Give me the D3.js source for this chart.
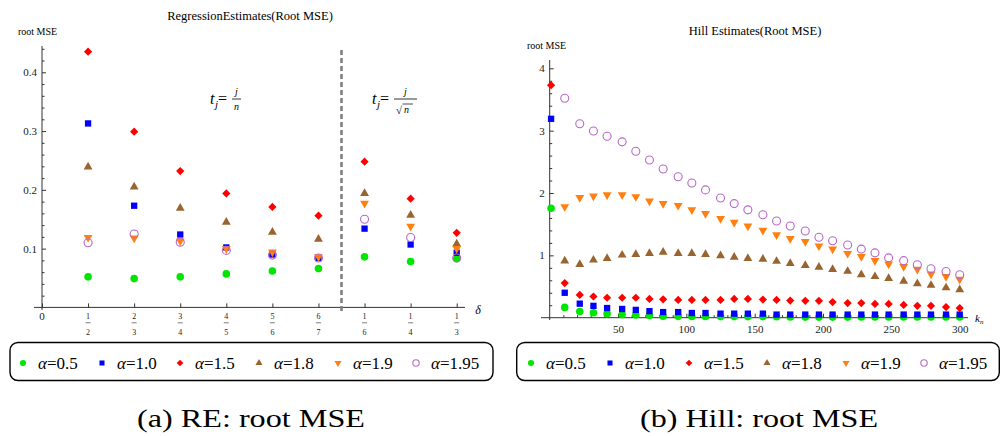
<!DOCTYPE html>
<html><head><meta charset="utf-8">
<script src="https://cdn.jsdelivr.net/npm/d3@7"></script>
<style>body{margin:0;background:#fff} svg{display:block}</style>
</head><body><svg id="c" width="1000" height="436"></svg>
<script>
// ---------- data ----------
const reIndex = [1,2,3,4,5,6,7,8,9];
const reTickNum = ["1","2","3","4","5","6","1","1","1"];
const reTickDen = ["2","3","4","5","6","7","6","4","3"];
const alphaLabels = ["0.5","1.0","1.5","1.8","1.9","1.95"];
const re_a05  = [0.052,0.049,0.052,0.057,0.062,0.066,0.086,0.078,0.083];
const re_a10  = [0.313,0.173,0.124,0.102,0.090,0.084,0.134,0.107,0.093];
const re_a15  = [0.435,0.299,0.232,0.194,0.171,0.156,0.248,0.185,0.127];
const re_a18  = [0.239,0.205,0.169,0.145,0.128,0.116,0.194,0.157,0.108];
const re_a19  = [0.119,0.118,0.113,0.100,0.094,0.086,0.177,0.138,0.100];
const re_a195 = [0.110,0.125,0.111,0.097,0.089,0.084,0.150,0.119,0.084];
const reYTicks = [0.1,0.2,0.3,0.4];

const hillK = [1,11,22,32,42,53,63,73,83,94,104,114,125,135,145,156,166,176,187,197,207,218,228,238,248,259,269,279,290,300];
const hill_a05  = [1.755,0.165,0.10,0.08,0.065,0.05,0.045,0.035,0.025,0.022,0.02,0.02,0.018,0.018,0.018,0.018,0.016,0.012,0.01,0.01,0.01,0.01,0.012,0.012,0.012,0.012,0.012,0.012,0.012,0.012];
const hill_a10  = [3.19,0.40,0.225,0.19,0.155,0.14,0.125,0.105,0.09,0.09,0.075,0.075,0.065,0.065,0.065,0.065,0.05,0.05,0.05,0.05,0.05,0.05,0.05,0.05,0.05,0.05,0.05,0.05,0.05,0.05];
const hill_a15  = [3.73,0.555,0.365,0.34,0.32,0.32,0.32,0.30,0.295,0.285,0.285,0.285,0.285,0.30,0.30,0.29,0.285,0.275,0.27,0.27,0.25,0.235,0.235,0.22,0.22,0.205,0.19,0.19,0.17,0.155];
const hill_a18  = [null,0.91,0.855,0.925,0.95,1.005,1.015,1.03,1.05,1.03,1.03,1.015,0.995,0.97,0.95,0.94,0.905,0.87,0.84,0.81,0.775,0.745,0.69,0.66,0.63,0.585,0.545,0.52,0.48,0.45];
const hill_a19  = [null,1.78,1.925,1.95,1.97,1.97,1.94,1.87,1.83,1.80,1.73,1.67,1.59,1.53,1.47,1.40,1.33,1.27,1.22,1.15,1.10,1.03,0.98,0.915,0.86,0.82,0.776,0.70,0.66,0.615];
const hill_a195 = [null,3.52,3.11,2.995,2.91,2.82,2.67,2.53,2.385,2.26,2.16,2.05,1.92,1.83,1.73,1.65,1.55,1.47,1.39,1.29,1.235,1.166,1.10,1.04,0.96,0.915,0.85,0.786,0.74,0.69];
const hillXTicks = [50,100,150,200,250,300];
const hillYTicks = [1,2,3,4];

// ---------- styles ----------
const FONT = "'Liberation Serif', 'Times New Roman', Times, serif";
const colors = ["#00e600","#0000ff","#ff0000","#9a6430","#ff8010","#b868c8"];
const shapes = ["circle","square","diamond","tri","tridown","ocircle"];

const svg = d3.select("#c");

function marker(g, shape, color, x, y, s) {
  let p;
  if (shape === "circle") p = g.append("circle").attr("r", 3.8*s).attr("fill", color);
  else if (shape === "ocircle") p = g.append("circle").attr("r", 4.0*s).attr("fill", "none").attr("stroke", color).attr("stroke-width", 1.1);
  else if (shape === "square") p = g.append("path").attr("d", d3.symbol(d3.symbolSquare, 40*s*s)()).attr("fill", color);
  else if (shape === "diamond") p = g.append("path").attr("d", d3.symbol(d3.symbolSquare, 34*s*s)()).attr("fill", color).attr("data-rot", 45);
  else if (shape === "tri") p = g.append("path").attr("d", d3.symbol(d3.symbolTriangle, 34*s*s)()).attr("fill", color);
  else if (shape === "tridown") p = g.append("path").attr("d", d3.symbol(d3.symbolTriangle, 34*s*s)()).attr("fill", color).attr("data-rot", 180);
  const rot = p.attr("data-rot");
  p.attr("transform", `translate(${x},${y})` + (rot ? ` rotate(${rot})` : ""));
}

function drawSeries(g, xs, ys, xScale, yScale, shape, color) {
  const gg = g.append("g");
  xs.forEach((xv, i) => {
    if (ys[i] === null || ys[i] === undefined) return;
    marker(gg, shape, color, xScale(xv), yScale(ys[i]), 1);
  });
}

function legend(x0, x1, markerXs) {
  const g = svg.append("g");
  g.append("rect").attr("x", x0).attr("y", 342.5).attr("width", x1 - x0).attr("height", 38)
    .attr("rx", 8).attr("fill", "none").attr("stroke", "#000").attr("stroke-width", 1.4);
  alphaLabels.forEach((a, i) => {
    const mx = markerXs[i];
    marker(g, shapes[i], colors[i], mx, 363, 0.8);
    const t = g.append("text").attr("x", mx + 15).attr("y", 369).attr("font-size", 17);
    t.append("tspan").attr("font-style", "italic").text("α");
    t.append("tspan").text("=" + a);
  });
}

// ================= LEFT CHART =================
const L = svg.append("g");
const lx = d3.scaleLinear().domain([0, 9]).range([42, 456.7]);
const ly = d3.scaleLinear().domain([0, 0.4]).range([307.4, 72.3]);

L.append("text").attr("x", 250).attr("y", 20).attr("text-anchor", "middle").attr("font-size", 12.5).text("RegressionEstimates(Root MSE)");
L.append("text").attr("x", 18).attr("y", 35).attr("font-size", 10).text("root MSE");

L.append("line").attr("x1", 42).attr("x2", 42).attr("y1", 46).attr("y2", 310).attr("stroke", "#333").attr("stroke-width", 1);
L.append("line").attr("x1", 34).attr("x2", 465).attr("y1", 307.4).attr("y2", 307.4).attr("stroke", "#333").attr("stroke-width", 1);

const lyAxis = L.append("g").attr("transform", "translate(42,0)")
  .call(d3.axisLeft(ly).tickValues(reYTicks).tickSizeInner(-4).tickSizeOuter(0).tickPadding(5).tickFormat(d3.format(".1f")));
lyAxis.select(".domain").remove();
lyAxis.selectAll("text").attr("font-size", 11).attr("fill", "#222");
lyAxis.selectAll("line").attr("stroke", "#333");
const lyMinor = L.append("g").attr("transform", "translate(42,0)")
  .call(d3.axisLeft(ly).tickValues(d3.range(0.02, 0.441, 0.02).filter(v => Math.abs(v*10 - Math.round(v*10)) > 0.01)).tickSizeInner(-2.5).tickSizeOuter(0).tickFormat(""));
lyMinor.select(".domain").remove();
lyMinor.selectAll("line").attr("stroke", "#333");

const lxAxis = L.append("g").attr("transform", "translate(0,307.4)")
  .call(d3.axisBottom(lx).tickValues([0].concat(reIndex)).tickSizeInner(-4).tickSizeOuter(0).tickFormat(""));
lxAxis.select(".domain").remove();
lxAxis.selectAll("line").attr("stroke", "#333");
L.append("text").attr("x", lx(0)).attr("y", 320).attr("text-anchor", "middle").attr("font-size", 11).attr("fill", "#222").text("0");
reIndex.forEach((v, i) => {
  const x = lx(v);
  L.append("text").attr("x", x).attr("y", 319).attr("text-anchor", "middle").attr("font-size", 8).attr("fill", "#222").text(reTickNum[i]);
  L.append("line").attr("x1", x - 2.5).attr("x2", x + 2.5).attr("y1", 322.8).attr("y2", 322.8).attr("stroke", "#444").attr("stroke-width", 0.7);
  L.append("text").attr("x", x).attr("y", 334.5).attr("text-anchor", "middle").attr("font-size", 8).attr("fill", "#222").text(reTickDen[i]);
});
L.append("text").attr("x", 478).attr("y", 314).attr("text-anchor", "middle").attr("font-size", 12).attr("font-style", "italic").text("δ");

L.append("line").attr("x1", lx(6.5)).attr("x2", lx(6.5)).attr("y1", 50).attr("y2", 311)
  .attr("stroke", "#808080").attr("stroke-width", 2.6).attr("stroke-dasharray", "5,3");

function tEq(g, x, y) {
  const t = g.append("text").attr("x", x).attr("y", y).attr("font-size", 16).attr("font-style", "italic");
  t.append("tspan").text("t");
  t.append("tspan").attr("font-size", 11).attr("dy", 4).attr("dx", 0.5).text("j");
  t.append("tspan").attr("font-style", "normal").attr("dy", -4).text("=");
}
tEq(L, 210, 104);
L.append("text").attr("x", 236.5).attr("y", 95).attr("text-anchor", "middle").attr("font-size", 10).attr("font-style", "italic").text("j");
L.append("line").attr("x1", 232).attr("x2", 241).attr("y1", 99).attr("y2", 99).attr("stroke", "#000").attr("stroke-width", 0.8);
L.append("text").attr("x", 236.5).attr("y", 110).attr("text-anchor", "middle").attr("font-size", 10).attr("font-style", "italic").text("n");

tEq(L, 372, 104);
L.append("text").attr("x", 405.5).attr("y", 95).attr("text-anchor", "middle").attr("font-size", 10).attr("font-style", "italic").text("j");
L.append("line").attr("x1", 394).attr("x2", 417).attr("y1", 99).attr("y2", 99).attr("stroke", "#000").attr("stroke-width", 0.8);
L.append("text").attr("x", 396).attr("y", 114).attr("font-size", 11).text("√");
L.append("line").attr("x1", 402.5).attr("x2", 413).attr("y1", 104).attr("y2", 104).attr("stroke", "#000").attr("stroke-width", 0.7);
L.append("text").attr("x", 404).attr("y", 113).attr("font-size", 10).attr("font-style", "italic").text("n");

[re_a05, re_a10, re_a15, re_a18, re_a19, re_a195].forEach((s, i) => drawSeries(L, reIndex, s, lx, ly, shapes[i], colors[i]));

// ================= RIGHT CHART =================
const R = svg.append("g");
const rx = d3.scaleLinear().domain([0, 300]).range([549.7, 959.7]);
const ry = d3.scaleLinear().domain([0, 4]).range([317.7, 68.3]);

R.append("text").attr("x", 755).attr("y", 35).attr("text-anchor", "middle").attr("font-size", 12.5).text("Hill Estimates(Root MSE)");
R.append("text").attr("x", 527).attr("y", 49).attr("font-size", 10).text("root MSE");

R.append("line").attr("x1", 549.7).attr("x2", 549.7).attr("y1", 60).attr("y2", 320).attr("stroke", "#333").attr("stroke-width", 1);
R.append("line").attr("x1", 541).attr("x2", 968).attr("y1", 317.7).attr("y2", 317.7).attr("stroke", "#333").attr("stroke-width", 1);

const ryAxis = R.append("g").attr("transform", "translate(549.7,0)")
  .call(d3.axisLeft(ry).tickValues(hillYTicks).tickSizeInner(-4).tickSizeOuter(0).tickPadding(5).tickFormat(d3.format("d")));
ryAxis.select(".domain").remove();
ryAxis.selectAll("text").attr("font-size", 11).attr("fill", "#222");
ryAxis.selectAll("line").attr("stroke", "#333");
const ryMinor = R.append("g").attr("transform", "translate(549.7,0)")
  .call(d3.axisLeft(ry).tickValues(d3.range(0.2, 4.11, 0.2).filter(v => Math.abs(v - Math.round(v)) > 0.01)).tickSizeInner(-2.5).tickSizeOuter(0).tickFormat(""));
ryMinor.select(".domain").remove();
ryMinor.selectAll("line").attr("stroke", "#333");

const rxAxis = R.append("g").attr("transform", "translate(0,317.7)")
  .call(d3.axisBottom(rx).tickValues(hillXTicks).tickSizeInner(-4).tickSizeOuter(0).tickPadding(8).tickFormat(d3.format("d")));
rxAxis.select(".domain").remove();
rxAxis.selectAll("text").attr("font-size", 11).attr("fill", "#222");
rxAxis.selectAll("line").attr("stroke", "#333");
const rxMinor = R.append("g").attr("transform", "translate(0,317.7)")
  .call(d3.axisBottom(rx).tickValues(d3.range(10, 301, 10).filter(v => v % 50 !== 0)).tickSizeInner(-2.5).tickSizeOuter(0).tickFormat(""));
rxMinor.select(".domain").remove();
rxMinor.selectAll("line").attr("stroke", "#333");

const kt = R.append("text").attr("x", 975).attr("y", 322).attr("font-size", 11).attr("font-style", "italic");
kt.append("tspan").text("k");
kt.append("tspan").attr("font-size", 7).attr("dy", 2).text("n");

[hill_a05, hill_a10, hill_a15, hill_a18, hill_a19, hill_a195].forEach((s, i) => drawSeries(R, hillK, s, rx, ry, shapes[i], colors[i]));

// ================= LEGENDS =================
legend(10, 493, [23, 102, 180, 259, 338, 416]);
legend(516.7, 999.3, [531, 610, 689, 767, 846, 924]);

// ================= CAPTIONS =================
svg.append("text").attr("x", 251).attr("y", 427).attr("text-anchor", "middle").attr("font-size", 25)
  .attr("textLength", 228).attr("lengthAdjust", "spacingAndGlyphs").text("(a) RE: root MSE");
svg.append("text").attr("x", 759).attr("y", 427).attr("text-anchor", "middle").attr("font-size", 25)
  .attr("textLength", 238).attr("lengthAdjust", "spacingAndGlyphs").text("(b) Hill: root MSE");

// uniform serif font for all text
svg.selectAll("g").attr("font-family", null);
svg.selectAll("text").attr("font-family", FONT);
</script></body></html>
